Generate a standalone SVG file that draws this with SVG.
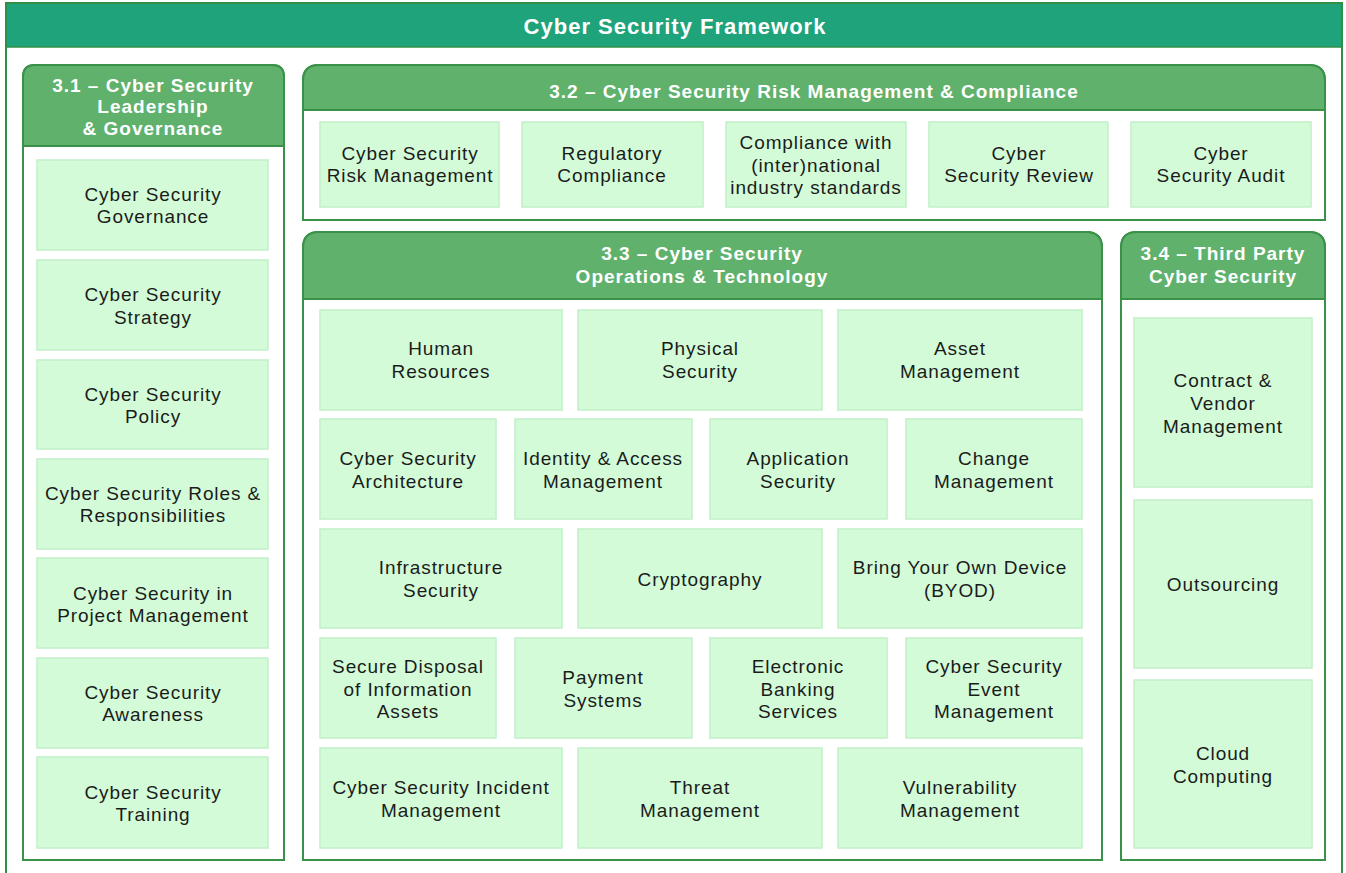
<svg xmlns="http://www.w3.org/2000/svg" width="1346" height="873" viewBox="0 0 1346 873">
<style>
.frame{fill:#fff;stroke:#2f8f45;stroke-width:2}
.sec{fill:#fff;stroke:#3a9148;stroke-width:2}
.hdr{fill:#5fb16c;stroke:#3a9148;stroke-width:2}
.item{fill:#d3fbd8;stroke:#c2efc8;stroke-width:1.5}
.t{font-family:"Liberation Sans",Arial,sans-serif;font-size:19px;letter-spacing:0.9px;fill:#1b1b1b;text-anchor:middle}
.h{font-family:"Liberation Sans",Arial,sans-serif;font-size:19px;letter-spacing:1px;font-weight:bold;fill:#fff;text-anchor:middle}
.title{font-family:"Liberation Sans",Arial,sans-serif;font-size:22px;letter-spacing:1px;font-weight:bold;fill:#fff;text-anchor:middle}
</style>
<rect width="1346" height="873" fill="#fff"/>
<g id="frame">
<rect class="frame" x="6" y="3" width="1336" height="880"/>
<rect x="7" y="4" width="1334" height="43" fill="#1fa37a"/>
<line x1="6" y1="47" x2="1342" y2="47" stroke="#2f8f45" stroke-width="1.5"/>
<text class="title" x="675" y="34">Cyber Security Framework</text>
</g>

<g id="sec31">
<path class="sec" d="M23,146 V77 Q23,65 35,65 H272 Q284,65 284,77 V860 H23 Z"/>
<path class="hdr" d="M23,146 V77 Q23,65 35,65 H272 Q284,65 284,77 V146 Z"/>
<text class="h" x="153" y="92">3.1 – Cyber Security</text>
<text class="h" x="153" y="113">Leadership</text>
<text class="h" x="153" y="135">&amp; Governance</text>
</g>
<g id="n31a"><rect class="item" x="37" y="160" width="231" height="90"/><text class="t" x="153" y="201">Cyber Security</text><text class="t" x="153" y="223">Governance</text></g>
<g id="n31b"><rect class="item" x="37" y="260" width="231" height="90"/><text class="t" x="153" y="301">Cyber Security</text><text class="t" x="153" y="324">Strategy</text></g>
<g id="n31c"><rect class="item" x="37" y="360" width="231" height="89"/><text class="t" x="153" y="401">Cyber Security</text><text class="t" x="153" y="423">Policy</text></g>
<g id="n31d"><rect class="item" x="37" y="459" width="231" height="90"/><text class="t" x="153" y="500">Cyber Security Roles &amp;</text><text class="t" x="153" y="522">Responsibilities</text></g>
<g id="n31e"><rect class="item" x="37" y="558" width="231" height="90"/><text class="t" x="153" y="600">Cyber Security in</text><text class="t" x="153" y="622">Project Management</text></g>
<g id="n31f"><rect class="item" x="37" y="658" width="231" height="90"/><text class="t" x="153" y="699">Cyber Security</text><text class="t" x="153" y="721">Awareness</text></g>
<g id="n31g"><rect class="item" x="37" y="757" width="231" height="91"/><text class="t" x="153" y="799">Cyber Security</text><text class="t" x="153" y="821">Training</text></g>

<g id="sec32">
<path class="sec" d="M303,110 V81 Q303,65 319,65 H1309 Q1325,65 1325,81 V220 H303 Z"/>
<path class="hdr" d="M303,110 V81 Q303,65 319,65 H1309 Q1325,65 1325,81 V110 Z"/>
<text class="h" x="814" y="98">3.2 – Cyber Security Risk Management &amp; Compliance</text>
</g>
<g id="n32a"><rect class="item" x="320" y="122" width="179" height="85"/><text class="t" x="410" y="160">Cyber Security</text><text class="t" x="410" y="182">Risk Management</text></g>
<g id="n32b"><rect class="item" x="522" y="122" width="181" height="85"/><text class="t" x="612" y="160">Regulatory</text><text class="t" x="612" y="182">Compliance</text></g>
<g id="n32c"><rect class="item" x="726" y="122" width="180" height="85"/><text class="t" x="816" y="149">Compliance with</text><text class="t" x="816" y="172">(inter)national</text><text class="t" x="816" y="194">industry standards</text></g>
<g id="n32d"><rect class="item" x="929" y="122" width="179" height="85"/><text class="t" x="1019" y="160">Cyber</text><text class="t" x="1019" y="182">Security Review</text></g>
<g id="n32e"><rect class="item" x="1131" y="122" width="180" height="85"/><text class="t" x="1221" y="160">Cyber</text><text class="t" x="1221" y="182">Security Audit</text></g>

<g id="sec33">
<path class="sec" d="M303,299 V248 Q303,232 319,232 H1086 Q1102,232 1102,248 V860 H303 Z"/>
<path class="hdr" d="M303,299 V248 Q303,232 319,232 H1086 Q1102,232 1102,248 V299 Z"/>
<text class="h" x="702" y="260">3.3 – Cyber Security</text>
<text class="h" x="702" y="283">Operations &amp; Technology</text>
</g>
<g id="n33a"><rect class="item" x="320" y="310" width="242" height="100"/><text class="t" x="441" y="355">Human</text><text class="t" x="441" y="378">Resources</text></g>
<g id="n33b"><rect class="item" x="578" y="310" width="244" height="100"/><text class="t" x="700" y="355">Physical</text><text class="t" x="700" y="378">Security</text></g>
<g id="n33c"><rect class="item" x="838" y="310" width="244" height="100"/><text class="t" x="960" y="355">Asset</text><text class="t" x="960" y="378">Management</text></g>
<g id="n33d"><rect class="item" x="320" y="419" width="176" height="100"/><text class="t" x="408" y="465">Cyber Security</text><text class="t" x="408" y="488">Architecture</text></g>
<g id="n33e"><rect class="item" x="515" y="419" width="177" height="100"/><text class="t" x="603" y="465">Identity &amp; Access</text><text class="t" x="603" y="488">Management</text></g>
<g id="n33f"><rect class="item" x="710" y="419" width="177" height="100"/><text class="t" x="798" y="465">Application</text><text class="t" x="798" y="488">Security</text></g>
<g id="n33g"><rect class="item" x="906" y="419" width="176" height="100"/><text class="t" x="994" y="465">Change</text><text class="t" x="994" y="488">Management</text></g>
<g id="n33h"><rect class="item" x="320" y="529" width="242" height="99"/><text class="t" x="441" y="574">Infrastructure</text><text class="t" x="441" y="597">Security</text></g>
<g id="n33i"><rect class="item" x="578" y="529" width="244" height="99"/><text class="t" x="700" y="586">Cryptography</text></g>
<g id="n33j"><rect class="item" x="838" y="529" width="244" height="99"/><text class="t" x="960" y="574">Bring Your Own Device</text><text class="t" x="960" y="597">(BYOD)</text></g>
<g id="n33k"><rect class="item" x="320" y="638" width="176" height="100"/><text class="t" x="408" y="673">Secure Disposal</text><text class="t" x="408" y="696">of Information</text><text class="t" x="408" y="718">Assets</text></g>
<g id="n33l"><rect class="item" x="515" y="638" width="177" height="100"/><text class="t" x="603" y="684">Payment</text><text class="t" x="603" y="707">Systems</text></g>
<g id="n33m"><rect class="item" x="710" y="638" width="177" height="100"/><text class="t" x="798" y="673">Electronic</text><text class="t" x="798" y="696">Banking</text><text class="t" x="798" y="718">Services</text></g>
<g id="n33n"><rect class="item" x="906" y="638" width="176" height="100"/><text class="t" x="994" y="673">Cyber Security</text><text class="t" x="994" y="696">Event</text><text class="t" x="994" y="718">Management</text></g>
<g id="n33o"><rect class="item" x="320" y="748" width="242" height="100"/><text class="t" x="441" y="794">Cyber Security Incident</text><text class="t" x="441" y="817">Management</text></g>
<g id="n33p"><rect class="item" x="578" y="748" width="244" height="100"/><text class="t" x="700" y="794">Threat</text><text class="t" x="700" y="817">Management</text></g>
<g id="n33q"><rect class="item" x="838" y="748" width="244" height="100"/><text class="t" x="960" y="794">Vulnerability</text><text class="t" x="960" y="817">Management</text></g>

<g id="sec34">
<path class="sec" d="M1121,299 V248 Q1121,232 1137,232 H1309 Q1325,232 1325,248 V860 H1121 Z"/>
<path class="hdr" d="M1121,299 V248 Q1121,232 1137,232 H1309 Q1325,232 1325,248 V299 Z"/>
<text class="h" x="1223" y="260">3.4 – Third Party</text>
<text class="h" x="1223" y="283">Cyber Security</text>
</g>
<g id="n34a"><rect class="item" x="1134" y="318" width="178" height="169"/><text class="t" x="1223" y="387">Contract &amp;</text><text class="t" x="1223" y="410">Vendor</text><text class="t" x="1223" y="433">Management</text></g>
<g id="n34b"><rect class="item" x="1134" y="500" width="178" height="168"/><text class="t" x="1223" y="591">Outsourcing</text></g>
<g id="n34c"><rect class="item" x="1134" y="680" width="178" height="168"/><text class="t" x="1223" y="760">Cloud</text><text class="t" x="1223" y="783">Computing</text></g>
<g id="connectors"></g>
</svg>
